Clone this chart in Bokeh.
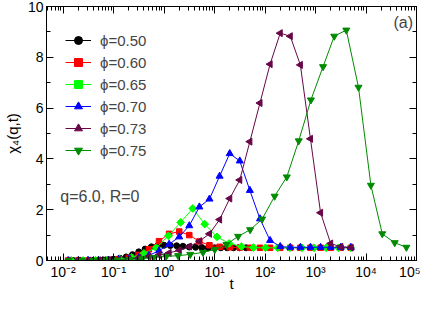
from bokeh.plotting import figure
from bokeh.models import (LogAxis, LinearAxis, FixedTicker, CustomJSTickFormatter,
                          Legend, LegendItem, Label)
from bokeh.embed import file_html
from bokeh.resources import INLINE
import math

# ---------------- data ----------------
t_050 = [0.0158, 0.02, 0.025, 0.04, 0.05, 0.063, 0.079, 0.1, 0.133, 0.178, 0.237, 0.316,
         0.422, 0.562, 0.75, 1.0, 1.33, 1.78, 2.37, 3.16, 4.22, 5.62, 7.5, 10.0, 13.3,
         17.8, 23.7, 31.6, 42.2]
y_050 = [0.0, 0.0, 0.0, 0.01, 0.01, 0.02, 0.03, 0.05, 0.09, 0.14, 0.23, 0.34,
         0.45, 0.54, 0.59, 0.6, 0.59, 0.58, 0.56, 0.53, 0.52, 0.51, 0.5, 0.5, 0.5,
         0.5, 0.5, 0.5, 0.5]

t_060 = [0.0126, 0.02, 0.0316, 0.05, 0.079, 0.126, 0.2, 0.316, 0.5, 0.794, 1.26, 2.0,
         3.16, 5.01, 7.94, 12.6, 20.0, 31.6, 50.1, 79.4, 126, 200, 316, 501, 794, 1259,
         1995, 3162, 5012]
y_060 = [0.0, 0.0, 0.0, 0.01, 0.02, 0.05, 0.1, 0.22, 0.44, 0.76, 1.05, 1.14,
         1.0, 0.75, 0.6, 0.54, 0.52, 0.51, 0.5, 0.5, 0.5, 0.5, 0.5, 0.5, 0.5, 0.5,
         0.5, 0.5, 0.5]

t_065 = [0.0146, 0.025, 0.044, 0.076, 0.133, 0.23, 0.40, 0.70, 1.22, 2.13, 3.7, 6.4,
         11.2, 19.5, 34, 59, 102, 178, 310, 540, 940, 1630, 2840, 4950]
y_065 = [0.0, 0.0, 0.01, 0.02, 0.05, 0.12, 0.28, 0.5, 0.97, 1.5, 2.05, 1.43,
         0.93, 0.67, 0.55, 0.51, 0.5, 0.5, 0.5, 0.5, 0.5, 0.5, 0.5, 0.5]

t_070 = [0.0126, 0.02, 0.0316, 0.05, 0.079, 0.126, 0.2, 0.316, 0.5, 0.794, 1.26, 2.0,
         3.16, 5.01, 7.94, 12.6, 20.0, 31.6, 50.1, 79.4, 126, 200, 316, 501, 794, 1259,
         1995, 3162, 5012]
y_070 = [0.0, 0.0, 0.0, 0.0, 0.01, 0.03, 0.06, 0.11, 0.2, 0.38, 0.64, 0.93,
         1.37, 2.11, 2.42, 3.32, 4.21, 3.92, 2.76, 1.64, 0.79, 0.55, 0.52, 0.52, 0.52, 0.52,
         0.52, 0.52, 0.52]

t_073 = [0.0126, 0.02, 0.0316, 0.05, 0.079, 0.126, 0.2, 0.316, 0.5, 0.794, 1.26, 2.0,
         3.16, 5.01, 7.94, 12.6, 20.0, 31.6, 50.1, 79.4, 126, 200, 316, 501, 794, 1259,
         1995, 3162, 5012]
y_073 = [0.0, 0.0, 0.0, 0.01, 0.01, 0.03, 0.06, 0.1, 0.16, 0.22, 0.3, 0.4,
         0.55, 0.76, 1.05, 1.61, 2.44, 3.17, 4.68, 6.2, 7.73, 8.95, 8.83, 7.7, 4.79, 1.88,
         0.67, 0.54, 0.51]

t_075 = [0.013, 0.023, 0.04, 0.07, 0.12, 0.21, 0.37, 0.63, 1.1, 1.9, 3.3, 5.9, 10.1,
         17.2, 29.3, 50.7, 87.5, 155, 270, 465, 810, 1410, 2350, 4070, 7100, 12500,
         21000, 37000, 63000]
y_075 = [0.0, 0.0, 0.0, 0.01, 0.02, 0.04, 0.07, 0.12, 0.16, 0.19, 0.24, 0.32, 0.43,
         0.63, 0.95, 1.21, 1.63, 2.53, 3.29, 4.71, 6.32, 7.63, 8.83, 9.07, 6.82, 2.96,
         1.05, 0.7, 0.52]

labels = ["ϕ=0.50", "ϕ=0.60", "ϕ=0.65", "ϕ=0.70", "ϕ=0.73", "ϕ=0.75"]
x_ticks = [1e-2, 1e-1, 1e0, 1e1, 1e2, 1e3, 1e4, 1e5]
y_ticks = [0, 2, 4, 6, 8, 10]

# ---------------- styling ----------------
FONT = "Liberation Sans"
series = [
    (t_050, y_050, "#000000", "circle", 6, 0.0),
    (t_060, y_060, "#FF0000", "square", 5.5, 0.0),
    (t_065, y_065, "#00FF00", "square", 5.5, math.pi / 4),
    (t_070, y_070, "#0000FF", "triangle", 7, 0.0),
    (t_073, y_073, "#670748", "triangle", 7, math.pi / 2),
    (t_075, y_075, "#008B00", "inverted_triangle", 7, 0.0),
]

p = figure(width=420, height=294, x_axis_type="log",
           x_range=(0.0047, 1e5), y_range=(0, 10),
           output_backend="svg", toolbar_location=None,
           min_border_left=43, min_border_right=4, min_border_top=6, min_border_bottom=34)
p.xgrid.visible = False
p.ygrid.visible = False
p.outline_line_color = "black"
p.outline_line_width = 1
p.border_fill_color = "white"

minor_x = [m * 10.0 ** e for e in range(-3, 5) for m in range(2, 10)]
xticker = FixedTicker(ticks=x_ticks, minor_ticks=minor_x)
yticker = FixedTicker(ticks=y_ticks, minor_ticks=[1, 3, 5, 7, 9])

sup_code = """
const e = Math.round(Math.log10(tick));
const sup = {'-':'\u207b','0':'\u2070','1':'\u00b9','2':'\u00b2','3':'\u00b3','4':'\u2074','5':'\u2075'};
let s = '';
for (const c of String(e)) { s += sup[c]; }
return '10' + s;
"""

def style_axis(ax):
    ax.major_tick_in = 7
    ax.major_tick_out = 0
    ax.minor_tick_in = 4
    ax.minor_tick_out = 0
    ax.axis_line_color = "black"
    ax.major_tick_line_color = "black"
    ax.minor_tick_line_color = "black"
    ax.major_label_text_font = FONT
    ax.major_label_text_font_size = "14px"
    ax.major_label_text_color = "black"
    ax.axis_label_text_font = FONT
    ax.axis_label_text_font_size = "15px"
    ax.axis_label_text_font_style = "normal"
    ax.axis_label_text_color = "black"

xa = p.xaxis[0]
xa.ticker = xticker
xa.formatter = CustomJSTickFormatter(code=sup_code)
style_axis(xa)
xa.major_label_standoff = 3
xa.axis_label = "t"
xa.axis_label_standoff = -8

ya = p.yaxis[0]
ya.ticker = yticker
style_axis(ya)
ya.major_label_standoff = 3
ya.axis_label = "χ₄(q,t)"
ya.axis_label_standoff = 4

blank = CustomJSTickFormatter(code="return '';")
top = LogAxis(ticker=xticker, formatter=blank)
style_axis(top)
top.major_label_text_font_size = "0px"
top.major_label_standoff = 0
p.add_layout(top, "above")

right = LinearAxis(ticker=yticker, formatter=blank)
style_axis(right)
right.major_label_text_font_size = "0px"
right.major_label_standoff = 0
p.add_layout(right, "right")

items = []
for (t, y, c, mk, sz, ang), lab in zip(series, labels):
    rl = p.line(t, y, line_color=c, line_width=1)
    rs = p.scatter(t, y, marker=mk, size=sz, angle=ang, fill_color=c, line_color=c)
    items.append(LegendItem(label=lab, renderers=[rl, rs]))

legend = Legend(items=items, location=(19, 100), border_line_color=None,
                background_fill_alpha=0, label_text_font=FONT, label_text_font_size="15px",
                glyph_width=26, glyph_height=20, label_height=20, spacing=2,
                label_standoff=9, padding=0, margin=0)
p.add_layout(legend)

p.add_layout(Label(x=0.0088, y=2.52, text="q=6.0, R=0", text_font=FONT,
                   text_font_size="16px", text_baseline="middle", text_align="left"))
p.add_layout(Label(x=35000, y=9.37, text="(a)", text_font=FONT,
                   text_font_size="16px", text_baseline="middle", text_align="left"))

open("out.html", "w").write(file_html(p, INLINE))
